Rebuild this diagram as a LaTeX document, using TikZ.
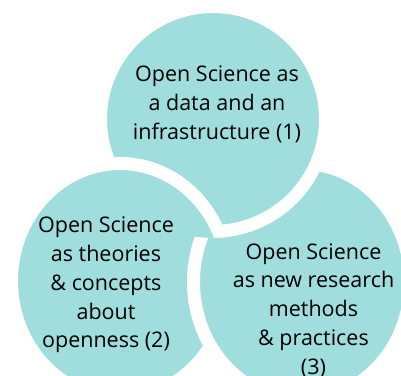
\documentclass[tikz,border=0pt]{standalone}
\usepackage{fontspec}
\setmainfont{Open Sans}
\usepackage{xcolor}
\definecolor{osteal}{HTML}{A0DEDD}

\begin{document}
\begin{tikzpicture}[
    x=1bp, y=-1bp,
    bubble/.style={fill=osteal, draw=white, line width=13bp},
    bubbletext/.style={align=center, anchor=base, inner sep=0pt, font=\fontsize{21.5bp}{28.8bp}\selectfont}
]
\useasboundingbox (0,0) rectangle (401,376);

% Centres
\coordinate (cInfra) at (213,119);
\coordinate (cTheory) at (120,281);
\coordinate (cMethod) at (302,282);

% Circles: 3 under 1, 1 under 2, 2 under 3
\path[bubble] (cMethod) ellipse [x radius=108.5bp, y radius=118.5bp];
\path[bubble] (cInfra) circle [radius=112.5bp];
\path[bubble] (cTheory) ellipse [x radius=108.5bp, y radius=117.5bp];
\begin{scope}[even odd rule]
  \clip (-20,-20) rectangle (420,400) (cInfra) circle [radius=119bp];
  \path[bubble] (cMethod) ellipse [x radius=108.5bp, y radius=118.5bp];
\end{scope}

% Texts (anchored at the last line)
\node[bubbletext] (infra) at (217,139.1) {Open Science as\\a data and an\\infrastructure (1)};
\node[bubbletext] (theory) at (106,347.9) {Open Science\\as theories\\\& concepts\\about\\openness (2)};
\node[bubbletext] (method) at (313.5,374.2) {Open Science\\as new research\\methods\\\& practices\\(3)};

\end{tikzpicture}
\end{document}
